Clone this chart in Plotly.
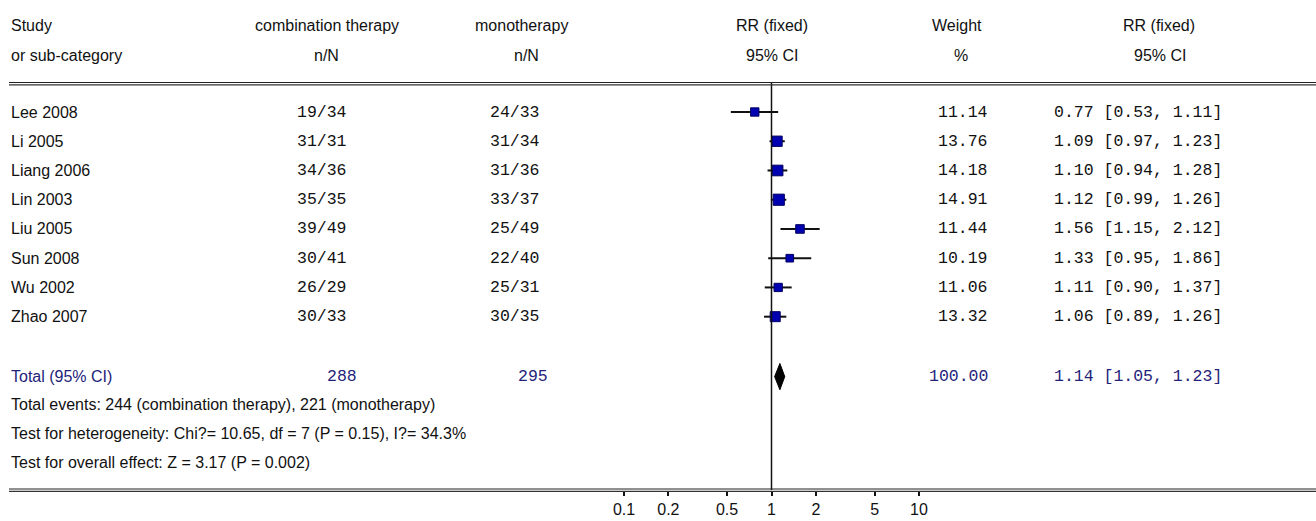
import plotly.graph_objects as go

# ---------------- data ----------------
studies = ["Lee 2008", "Li 2005", "Liang 2006", "Lin 2003", "Liu 2005", "Sun 2008", "Wu 2002", "Zhao 2007"]
combo_events = [19, 31, 34, 35, 39, 30, 26, 30]
combo_total = [34, 31, 36, 35, 49, 41, 29, 33]
mono_events = [24, 31, 31, 33, 25, 22, 25, 30]
mono_total = [33, 34, 36, 37, 49, 40, 31, 35]
weights = [11.14, 13.76, 14.18, 14.91, 11.44, 10.19, 11.06, 13.32]
rr = [0.77, 1.09, 1.10, 1.12, 1.56, 1.33, 1.11, 1.06]
rr_low = [0.53, 0.97, 0.94, 0.99, 1.15, 0.95, 0.90, 0.89]
rr_high = [1.11, 1.23, 1.28, 1.26, 2.12, 1.86, 1.37, 1.26]

total_label = "Total (95% CI)"
total_combo_n = 288
total_mono_n = 295
total_weight = 100.00
total_rr = 1.14
total_low = 1.05
total_high = 1.23

footer_lines = [
    "Total events: 244 (combination therapy), 221 (monotherapy)",
    "Test for heterogeneity: Chi?= 10.65, df = 7 (P = 0.15), I?= 34.3%",
    "Test for overall effect: Z = 3.17 (P = 0.002)",
]

tick_vals = [0.1, 0.2, 0.5, 1, 2, 5, 10]
tick_text = ["0.1", "0.2", "0.5", "1", "2", "5", "10"]
null_value = 1

# ---------------- layout helpers ----------------
W, H = 1316, 521
AXIS_PX = 490          # pixel y of bottom axis
TOP_RULE_PX = 83
ROW0_PX = 112
ROW_STEP = 29.24
X_LEFT_PX, X_RIGHT_PX = 624, 919   # pixels of 0.1 and 10
dec = (X_RIGHT_PX - X_LEFT_PX) / 2.0
x_range = [-1 - X_LEFT_PX / dec, 1 + (W - X_RIGHT_PX) / dec]
y_range = [(AXIS_PX - ROW0_PX) / ROW_STEP, -ROW0_PX / ROW_STEP]

def px(x):
    return x / W

def py(y):
    return 1 - y / H

rows = list(range(len(studies)))
total_row = len(studies) + 1.05
footer_rows = [len(studies) + 2 + i for i in range(len(footer_lines))]

SANS = "Liberation Sans, Arial, sans-serif"
SANS_SIZE = 16
MONO = "Liberation Mono, Courier New, monospace"
MONO_SIZE = 16.5
NAVY = "#23237a"
TXT = "#111111"

fig = go.Figure()

# CI whiskers
cx, cy = [], []
for r, lo, hi in zip(rows, rr_low, rr_high):
    cx += [lo, hi, None]
    cy += [r, r, None]
fig.add_trace(go.Scatter(x=cx, y=cy, mode="lines", line=dict(color="#111111", width=2),
                         hoverinfo="skip", showlegend=False))

# point estimates
fig.add_trace(go.Scatter(x=rr, y=rows, mode="markers",
                         marker=dict(symbol="square", size=[w * 0.75 for w in weights],
                                     color="#0000b0", opacity=1,
                                     line=dict(color="#000060", width=1)),
                         showlegend=False))

# pooled diamond
fig.add_trace(go.Scatter(x=[total_low, total_rr, total_high, total_rr, total_low],
                         y=[total_row, total_row - 0.45, total_row, total_row + 0.45, total_row],
                         mode="lines", fill="toself", fillcolor="#000000",
                         line=dict(color="#000000", width=1), showlegend=False))

shapes = [
    dict(type="line", xref="x", yref="paper", x0=null_value, x1=null_value,
         y0=py(AXIS_PX), y1=py(TOP_RULE_PX), line=dict(color="#111111", width=1.5)),
    dict(type="line", xref="paper", yref="paper", x0=px(9), x1=1, y0=py(82.5), y1=py(82.5),
         line=dict(color="#222222", width=1.2)),
    dict(type="line", xref="paper", yref="paper", x0=px(9), x1=1, y0=py(84.8), y1=py(84.8),
         line=dict(color="#333333", width=1.2)),
    dict(type="line", xref="paper", yref="paper", x0=px(9), x1=1, y0=py(489), y1=py(489),
         line=dict(color="#222222", width=1.2)),
    dict(type="line", xref="paper", yref="paper", x0=px(9), x1=1, y0=py(491.3), y1=py(491.3),
         line=dict(color="#333333", width=1.2)),
]

ann = []

def add_text(text, x, y, yref="y", anchor="left", font=SANS, size=SANS_SIZE, color=TXT):
    ann.append(dict(text=text, x=px(x), y=(y if yref == "y" else py(y)), xref="paper", yref=yref,
                    xanchor=anchor, yanchor="middle", showarrow=False,
                    font=dict(family=font, size=size, color=color)))

# headers
add_text("Study", 9, 25, yref="paper")
add_text("or sub-category", 9, 55, yref="paper")
add_text("combination therapy", 327, 25, yref="paper", anchor="center")
add_text("n/N", 326, 55, yref="paper", anchor="center")
add_text("monotherapy", 521, 25, yref="paper", anchor="center")
add_text("n/N", 526, 55, yref="paper", anchor="center")
add_text("RR (fixed)", 772, 25, yref="paper", anchor="center")
add_text("95% CI", 772, 55, yref="paper", anchor="center")
add_text("Weight", 957, 25, yref="paper", anchor="center")
add_text("%", 961, 55, yref="paper", anchor="center")
add_text("RR (fixed)", 1159, 25, yref="paper", anchor="center")
add_text("95% CI", 1160, 55, yref="paper", anchor="center")

# study rows
for r, s, ce, ct, me, mt, w, e, lo, hi in zip(rows, studies, combo_events, combo_total, mono_events,
                                               mono_total, weights, rr, rr_low, rr_high):
    add_text(s, 9, r)
    add_text(f"{ce}/{ct}", 322, r, anchor="center", font=MONO, size=MONO_SIZE)
    add_text(f"{me}/{mt}", 515, r, anchor="center", font=MONO, size=MONO_SIZE)
    add_text(f"{w:.2f}", 990, r, anchor="right", font=MONO, size=MONO_SIZE)
    add_text(f"{e:.2f} [{lo:.2f}, {hi:.2f}]", 1052, r, anchor="left", font=MONO, size=MONO_SIZE)

# total row
add_text(total_label, 9, total_row, color=NAVY)
add_text(str(total_combo_n), 342, total_row, anchor="center", font=MONO, size=MONO_SIZE, color=NAVY)
add_text(str(total_mono_n), 533, total_row, anchor="center", font=MONO, size=MONO_SIZE, color=NAVY)
add_text(f"{total_weight:.2f}", 990, total_row, anchor="right", font=MONO, size=MONO_SIZE, color=NAVY)
add_text(f"{total_rr:.2f} [{total_low:.2f}, {total_high:.2f}]", 1052, total_row, anchor="left",
         font=MONO, size=MONO_SIZE, color=NAVY)

for r, t in zip(footer_rows, footer_lines):
    add_text(t, 9, r)

fig.update_layout(
    width=W, height=H,
    margin=dict(l=0, r=0, t=0, b=0),
    paper_bgcolor="white", plot_bgcolor="white",
    showlegend=False,
    shapes=shapes, annotations=ann,
    xaxis=dict(type="log", range=x_range, domain=[0, 1], showgrid=False, zeroline=False,
               showline=False, tickvals=tick_vals, ticktext=tick_text, ticks="outside",
               ticklen=5, tickwidth=1.5, tickcolor="#111111",
               tickfont=dict(family=SANS, size=16, color=TXT)),
    yaxis=dict(range=y_range, domain=[1 - AXIS_PX / H, 1], showgrid=False, zeroline=False,
               showline=False, showticklabels=False, ticks=""),
)

fig.write_html("out.html", config={"displayModeBar": False},
               post_script="document.body.style.margin='0';document.body.style.overflow='hidden';")
